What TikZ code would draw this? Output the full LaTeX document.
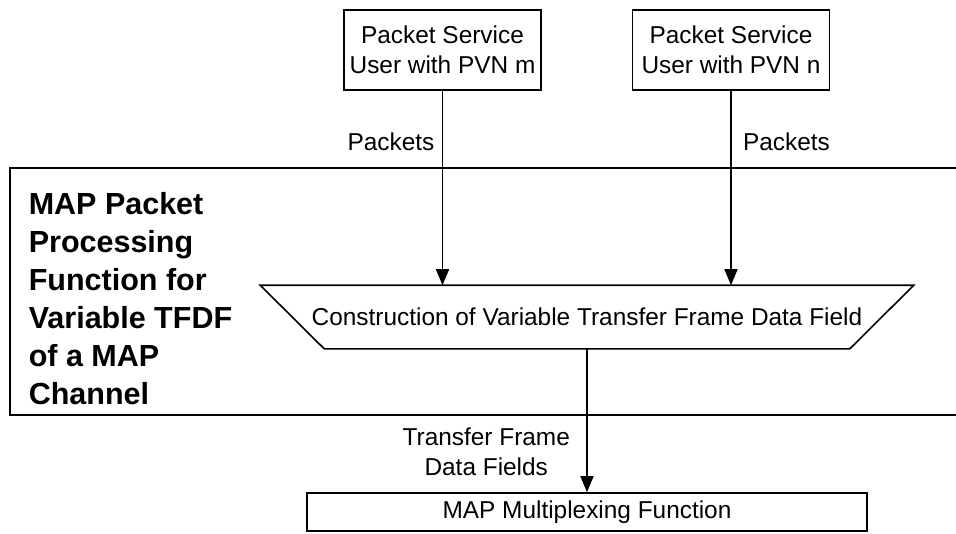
\documentclass[tikz,border=0pt]{standalone}
\usepackage{fontspec}
\setmainfont{Liberation Sans}
\usetikzlibrary{calc,arrows.meta}

\begin{document}
\begin{tikzpicture}[->,>={Triangle[width=13pt,length=16pt]},x=1pt,y=-1pt,
                line width=1.6pt,font=\fontsize{24.4}{30}\selectfont,
                user node/.style={draw,align=center,minimum width=197pt,minimum height=80pt,inner sep=0pt},
                func node/.style={draw,minimum width=560pt,minimum height=38pt,inner sep=0pt}]
	\useasboundingbox (0,0) rectangle (956,533);
	\draw[-,line width=2pt] (956,168) -- (10,168) -- (10,415) -- (956,415);
	\node[anchor=north west,align=left,inner sep=0pt,font=\bfseries\fontsize{30.5}{38}\selectfont] (title) at (28,192)
		{MAP Packet\\Processing\\Function for\\Variable TFDF\\of a MAP\\Channel};
	\node[user node] (m) at (442.5,50) {Packet Service\\User with PVN m};
	\node[user node] (n) at (731,50) {Packet Service\\User with PVN n};
	\node[minimum width=652pt,minimum height=62pt,inner sep=0pt] (cons) at (587,317)
		{Construction of Variable Transfer Frame Data Field};
	\draw[-] (cons.north west) -- (cons.north east) -- ($(cons.south east)+(-64,0)$)
		-- ($(cons.south west)+(64,0)$) -- cycle;
	\node[func node] (mux) at (587,512) {MAP Multiplexing Function};
	
	\path
	(m) edge node[left,pos=0.26,xshift=-4pt] {Packets} (m |- cons.north)
	(n) edge node[right,pos=0.26,xshift=8pt] {Packets} (n |- cons.north)
	(cons) edge node[left,pos=0.72,align=center,xshift=-13pt] {Transfer Frame\\Data Fields} (mux)
;
\end{tikzpicture}
\end{document}
